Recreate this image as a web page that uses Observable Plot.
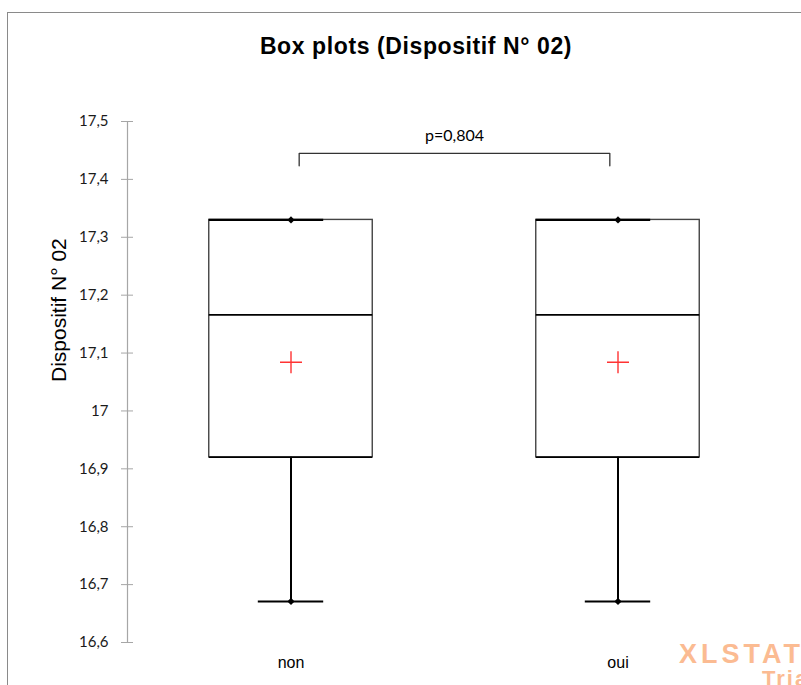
<!DOCTYPE html>
<html>
<head>
<meta charset="utf-8">
<script src="https://cdn.jsdelivr.net/npm/d3@7"></script>
<script src="https://cdn.jsdelivr.net/npm/@observablehq/plot@0.6"></script>
<style>
  html, body { margin: 0; padding: 0; background: #fff; }
  #wrap { position: relative; width: 801px; height: 685px; overflow: hidden; background: #fff; }
  #frame { position: absolute; left: 7px; top: 12px; width: 1000px; height: 1000px; border-left: 1px solid #8a8a8a; border-top: 1px solid #8a8a8a; }
  #title { position: absolute; left: 0; top: 35px; width: 832px; text-align: center; font: bold 23px "Liberation Sans", Arial, sans-serif; letter-spacing: 0.6px; line-height: 1; color: #000; }
  #chart { position: absolute; left: 0; top: 0; }
  .wm { position: absolute; font-family: "Liberation Sans", Arial, sans-serif; font-weight: bold; color: #fbbb92; line-height: 1; white-space: nowrap; }
  #wm1 { left: 679px; top: 641px; font-size: 27px; letter-spacing: 4px; }
  #wm2 { left: 762px; top: 668px; font-size: 22px; letter-spacing: 2px; }
</style>
</head>
<body>
<div id="wrap">
  <div id="frame"></div>
  <div id="chart"></div>
  <div id="title"></div>
  <div class="wm" id="wm1">XLSTAT</div>
  <div class="wm" id="wm2">Trial</div>
</div>
<script>
const title = "Box plots (Dispositif N° 02)";
const yLabel = "Dispositif N° 02";
const categories = ["non", "oui"];
const minimums = [16.671, 16.671];
const firstQuartiles = [16.920, 16.920];
const medians = [17.166, 17.166];
const thirdQuartiles = [17.330, 17.330];
const maximums = [17.330, 17.330];
const means = [17.084, 17.084];
const yTicks = [16.6, 16.7, 16.8, 16.9, 17, 17.1, 17.2, 17.3, 17.4, 17.5];
const pValueLabel = "p=0,804";
const bracketY = 17.445;
const bracketFootY = 17.4235;
const pLabelY = 17.475;

document.getElementById("title").textContent = title;

const rows = categories.map((c, i) => ({
  cat: c, pos: 2 * i + 1,
  min: minimums[i], q1: firstQuartiles[i], median: medians[i],
  q3: thirdQuartiles[i], max: maximums[i], mean: means[i]
}));

const plusSymbol = {
  draw(ctx, size) {
    const r = Math.sqrt(size / Math.PI);
    ctx.moveTo(-r, 0); ctx.lineTo(r, 0);
    ctx.moveTo(0, -r); ctx.lineTo(0, r);
  }
};
const diamondSymbol = {
  draw(ctx, size) {
    const r = Math.sqrt(size / Math.PI);
    ctx.moveTo(0, -r); ctx.lineTo(r, 0); ctx.lineTo(0, r); ctx.lineTo(-r, 0); ctx.closePath();
  }
};

const p1 = rows[0].pos, p2 = rows[rows.length - 1].pos;
const bracket = [
  {x: p1 + 0.05, y: bracketFootY},
  {x: p1 + 0.05, y: bracketY},
  {x: p2 - 0.05, y: bracketY},
  {x: p2 - 0.05, y: bracketFootY}
];

const fmt = d => String(d).replace(".", ",");

const chart = Plot.plot({
  width: 801,
  height: 685,
  marginLeft: 127,
  marginRight: 20,
  marginTop: 121,
  marginBottom: 43,
  style: {fontFamily: "Lato, sans-serif", fontSize: "15px", color: "#000", background: "transparent"},
  x: {domain: [0, 4], axis: null},
  y: {domain: [16.6, 17.5], axis: null},
  marks: [
    Plot.ruleX([0], {stroke: "#a6a6a6", strokeWidth: 1.2}),
    Plot.axisY(yTicks, {tickSize: 12, dx: 6, tickPadding: 13, tickFormat: fmt, stroke: "#a6a6a6", fill: "#1a1a1a", fontFamily: "Lato, sans-serif", fontSize: 15, label: null}),
    Plot.axisX([1, 3], {tickSize: 0, tickPadding: 14, tickFormat: d => categories[(d - 1) / 2], fill: "#000", fontFamily: "Liberation Sans, Arial, sans-serif", fontSize: 16, label: null}),
    Plot.text([yLabel], {frameAnchor: "left", rotate: -90, dx: -68, fontSize: 21, fontFamily: "Liberation Sans, Arial, sans-serif", fill: "#000"}),
    Plot.rect(rows, {x1: d => d.pos - 0.5, x2: d => d.pos + 0.5, y1: "q1", y2: "q3", fill: "white", stroke: "#444", strokeWidth: 1.4}),
    Plot.ruleY(rows, {y: "q1", x1: d => d.pos - 0.5, x2: d => d.pos + 0.5, stroke: "#000", strokeWidth: 1.6}),
    Plot.ruleY(rows, {y: "median", x1: d => d.pos - 0.5, x2: d => d.pos + 0.5, stroke: "#000", strokeWidth: 1.8}),
    Plot.ruleX(rows, {x: "pos", y1: "min", y2: "q1", stroke: "#000", strokeWidth: 2}),
    Plot.ruleX(rows, {x: "pos", y1: "q3", y2: "max", stroke: "#000", strokeWidth: 2}),
    Plot.ruleY(rows, {y: "min", x1: d => d.pos - 0.2, x2: d => d.pos + 0.2, stroke: "#000", strokeWidth: 2}),
    Plot.ruleY(rows, {y: "max", x1: d => d.pos - 0.5, x2: d => d.pos + 0.2, stroke: "#000", strokeWidth: 2.2}),
    Plot.dot(rows, {x: "pos", y: "min", symbol: diamondSymbol, r: 3.6, fill: "#000", stroke: "none"}),
    Plot.dot(rows, {x: "pos", y: "max", symbol: diamondSymbol, r: 3.6, fill: "#000", stroke: "none"}),
    Plot.dot(rows, {x: "pos", y: "mean", symbol: plusSymbol, r: 11, fill: "none", stroke: "#ff3333", strokeWidth: 1.4}),
    Plot.line(bracket, {x: "x", y: "y", stroke: "#333", strokeWidth: 1.3, curve: "linear"}),
    Plot.text([pValueLabel], {x: (p1 + p2) / 2, y: pLabelY, fontSize: 16, fontFamily: "Lato, sans-serif", fill: "#000"})
  ]
});
document.getElementById("chart").appendChild(chart);
</script>
</body>
</html>
